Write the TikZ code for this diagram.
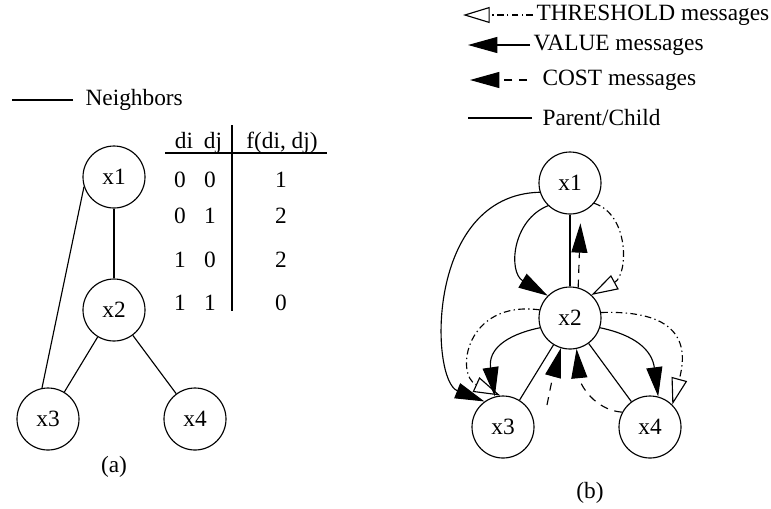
\documentclass[tikz,border=0pt]{standalone}
\usepackage{fontspec}
\setmainfont{Liberation Serif}
\usetikzlibrary{arrows.meta}

\begin{document}
\begin{tikzpicture}[x=0.75pt, y=-0.75pt, line width=0.85pt,
    font=\fontsize{17.5}{21}\selectfont,
    vertex/.style={circle, draw, minimum size=46.5pt, inner sep=0pt},
    label/.style={anchor=west, inner sep=0pt},
    cell/.style={anchor=base, inner sep=0pt},
    valuemsg/.style={-{Triangle[length=22pt, width=12pt]}},
    costmsg/.style={dash pattern=on 6pt off 5pt, -{Triangle[length=22pt, width=12pt]}},
    thrmsg/.style={dash pattern=on 5pt off 2.5pt on 1pt off 2.5pt, -{Triangle[open, length=20pt, width=12pt]}}]
\useasboundingbox (0,0) rectangle (771,508);

% (a) constraint graph
\node[label] (nbtext) at (85,100) {Neighbors};
\coordinate (nbend) at (12,100);
\draw (nbtext.west) ++(-12,0) -- (nbend);

\node[vertex] (a1) at (114,177) {x1};
\node[vertex] (a2) at (114,310) {x2};
\node[vertex] (a3) at (48,419) {x3};
\node[vertex] (a4) at (195,419) {x4};

\draw (a1) -- (a2);
\draw (a1.198) -- (a3.101);
\draw (a2) -- (a3);
\draw (a2) -- (a4);

% constraint table
\node[cell] (hdi) at (184,148) {di};
\node[cell] (hdj) at (213,148) {dj};
\node[cell] (hf) at (282,148) {f(di, dj)};
\draw (165,153) -- (327,153);
\draw (232,125) -- (232,311);
\foreach \y/\a/\b/\f in {187/0/0/1, 223/0/1/2, 267/1/0/2, 310/1/1/0}{
  \node[cell] (di\y) at (180,\y) {\a};
  \node[cell] (dj\y) at (210,\y) {\b};
  \node[cell] (f\y) at (281,\y) {\f};
}

\node (capa) at (114,467) {(a)};

% (b) legend
\node[label] (thrtext) at (536,15) {THRESHOLD messages};
\node[label] (valtext) at (533,45) {VALUE messages};
\node[label] (costtext) at (542,80) {COST messages};
\node[label] (pctext) at (542,118) {Parent/Child};
\coordinate (thrtip) at (463,15);
\coordinate (valtip) at (468,45);
\coordinate (costtip) at (470,80);
\coordinate (pcend) at (468,118);
\draw[thrmsg] (thrtext.west) ++(-3,0) -- (thrtip);
\draw[valuemsg] (valtext.west) ++(-3,0) -- (valtip);
\draw[costmsg] (costtext.west) ++(-15,0) -- (costtip);
\draw (pctext.west) ++(-10,0) -- (pcend);

% (b) DFS tree with messages
\node[vertex] (b1) at (570,183) {x1};
\node[vertex] (b2) at (570,318) {x2};
\node[vertex] (b3) at (503,427) {x3};
\node[vertex] (b4) at (650,427) {x4};

\draw (b1) -- (b2);
\draw (b2) -- (b3);
\draw (b2) -- (b4);

\draw[valuemsg] (b1.226) .. controls (512,220) and (508,272) .. (b2.135);
\draw[valuemsg] (b1.197) .. controls (425,195) and (430,380) .. (b3.126);
\draw[valuemsg] (b2.198) .. controls (505,335) and (488,350) .. (b3.105);
\draw[valuemsg] (b2.342) .. controls (635,335) and (652,350) .. (b4.75);

\coordinate (c3) at (547,405);
\draw[costmsg, shorten >=8pt] (b2.75) -- (b1.-70);
\draw[costmsg] (c3) .. controls (552,380) .. (b2.-107);
\draw[costmsg] (b4.152) .. controls (595,410) and (580,385) .. (b2.-78);

\draw[thrmsg] (b1.-40) .. controls (630,215) and (628,275) .. (b2.47);
\draw[thrmsg] (b2.165) .. controls (465,300) and (455,375) .. (b3.95);
\draw[thrmsg] (b2.10) .. controls (675,310) and (690,340) .. (b4.45);

\node (capb) at (590,493) {(b)};
\end{tikzpicture}
\end{document}
